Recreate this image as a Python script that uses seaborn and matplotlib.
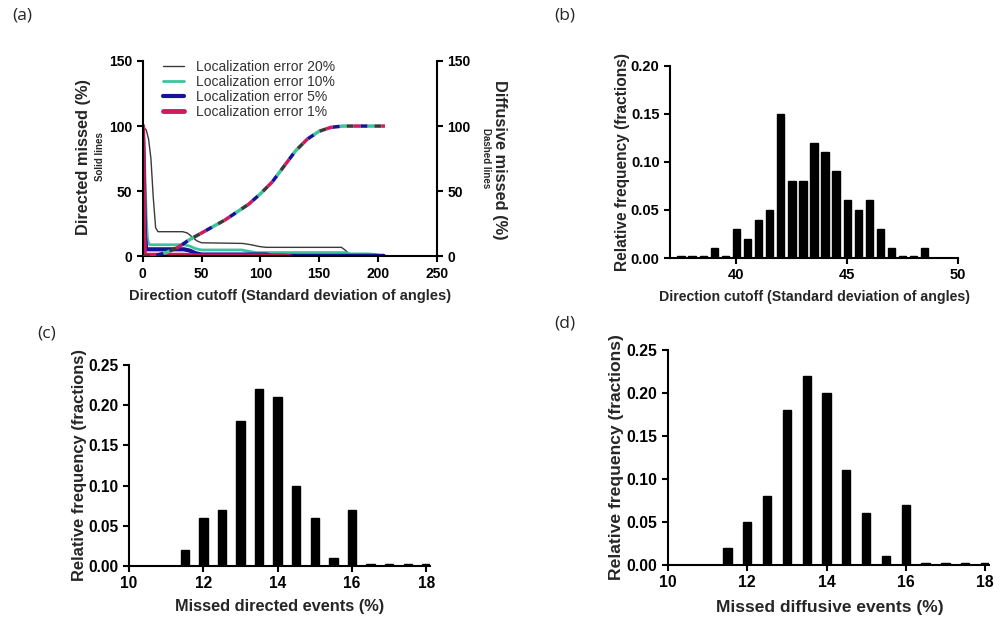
import matplotlib
matplotlib.use('Agg')
import matplotlib.pyplot as plt
import seaborn as sns

# ---- panel (a): missed events vs direction cutoff ----
err_labels = ['Localization error 20%', 'Localization error 10%',
              'Localization error 5%', 'Localization error 1%']

# directed missed (%), solid lines
dir20_x = [0, 3, 5, 7, 9, 11, 13, 34, 38, 42, 46, 50, 85, 92, 100, 105, 169, 172, 175, 178, 193, 200, 206]
dir20_y = [100, 97, 90, 75, 45, 22, 19, 19, 18, 15, 12, 10.5, 10, 9, 7.5, 7, 7, 5, 2.5, 1.5, 1.5, 1, 0]
dir10_x = [0, 1, 2, 3, 4, 5, 6, 35, 40, 45, 50, 84, 90, 96, 100, 172, 176, 192, 198, 203, 206]
dir10_y = [100, 90, 60, 30, 14, 10, 9, 9, 8, 6, 5, 5, 4, 3, 3, 3, 2, 2, 1.5, 0.5, 0]
dir5_x = [0, 1, 2, 3, 35, 40, 45, 50, 105, 110, 205]
dir5_y = [100, 60, 15, 5.5, 5.5, 4.5, 2.5, 1.5, 1.5, 0.5, 0.5]
dir1_x = [0, 0.5, 1, 1.5, 35, 45, 120, 125]
dir1_y = [100, 70, 20, 1, 1, 0.5, 0.5, 0]

# diffusive missed (%), dashed lines (the four curves overlap)
diff_x = [0, 10, 20, 30, 40, 50, 60, 70, 80, 90, 100, 110, 120, 130, 140, 150, 160, 170, 180, 190, 200, 206]
diff_y = [0, 0.5, 3, 7, 13, 18, 23, 28, 34, 40, 48, 57, 69, 81, 90, 96, 99, 100, 100, 100, 100, 100]

# ---- panel (b): distribution of direction cutoff ----
# empty bins show up as thin flat marks on the axis
b_bins = [37.5, 38, 38.5, 39, 39.5, 40, 40.5, 41, 41.5, 42, 42.5, 43, 43.5, 44, 44.5,
          45, 45.5, 46, 46.5, 47, 47.5, 48, 48.5]
b_freq = [0.002, 0.002, 0.002, 0.01, 0.002, 0.03, 0.02, 0.04, 0.05, 0.15, 0.08, 0.08, 0.12, 0.11, 0.09,
          0.06, 0.05, 0.06, 0.03, 0.01, 0.002, 0.002, 0.01]

# ---- panels (c) and (d): missed directed / diffusive events ----
cd_bins = [11.5, 12, 12.5, 13, 13.5, 14, 14.5, 15, 15.5, 16, 16.5, 17, 17.5, 18]
c_freq = [0.02, 0.06, 0.07, 0.18, 0.22, 0.21, 0.10, 0.06, 0.01, 0.07, 0.002, 0.002, 0.002, 0.002]
d_freq = [0.02, 0.05, 0.08, 0.18, 0.22, 0.20, 0.11, 0.06, 0.01, 0.07, 0.002, 0.002, 0.002, 0.002]

colors = ['#3a3a3a', '#3cc49a', '#14149a', '#d0195e']
widths = [1.0, 2.0, 3.0, 3.5]

sns.set_style('ticks')
plt.rcParams['font.family'] = ['Liberation Sans', 'DejaVu Sans']

fig = plt.figure(figsize=(10, 6.21), dpi=100)

ax_a = fig.add_axes([0.1427, 0.587, 0.294, 0.315])
ax_b = fig.add_axes([0.670, 0.5845, 0.288, 0.3097])
ax_c = fig.add_axes([0.129, 0.0886, 0.301, 0.3237])
ax_d = fig.add_axes([0.668, 0.0902, 0.321, 0.346])


def style_axis(ax, size):
    for s in ['left', 'bottom', 'right']:
        ax.spines[s].set_linewidth(1.5)
        ax.spines[s].set_color('black')
    ax.tick_params(direction='out', length=4, width=1.5, labelsize=size, colors='black')
    for t in ax.get_xticklabels() + ax.get_yticklabels():
        t.set_fontweight('bold')


# panel (a)
dir_x = [dir20_x, dir10_x, dir5_x, dir1_x]
dir_y = [dir20_y, dir10_y, dir5_y, dir1_y]
ax_a2 = ax_a.twinx()
handles = []
for i in range(4):
    sns.lineplot(x=dir_x[i], y=dir_y[i], estimator=None, sort=False, color=colors[i],
                 linewidth=widths[i], ax=ax_a)
    handles.append(ax_a.lines[-1])
for i in [1, 0, 3, 2]:
    sns.lineplot(x=diff_x, y=diff_y, estimator=None, sort=False, color=colors[i],
                 linewidth=2.5, linestyle=(i * 2, (2, 6)), ax=ax_a2)
ax_a.set_xlim(0, 250)
ax_a.set_ylim(0, 150)
ax_a2.set_ylim(0, 150)
ax_a.set_xticks([0, 50, 100, 150, 200, 250])
ax_a.set_yticks([0, 50, 100, 150])
ax_a2.set_yticks([0, 50, 100, 150])
ax_a.spines['top'].set_visible(False)
ax_a.spines['right'].set_visible(False)
for s in ['top', 'left', 'bottom']:
    ax_a2.spines[s].set_visible(False)
style_axis(ax_a, 10)
style_axis(ax_a2, 10)
ax_a.set_xlabel('Direction cutoff (Standard deviation of angles)', fontsize=10.5, fontweight='bold')
ax_a.xaxis.set_label_coords(0.501, -0.166)
ax_a.set_ylabel('Directed missed (%)', fontsize=11.8, fontweight='bold')
ax_a.yaxis.set_label_coords(-0.177, 0.51)
ax_a.text(-0.145, 0.51, 'Solid lines', rotation=90, fontsize=7, fontweight='bold',
          ha='center', va='center', transform=ax_a.transAxes)
ax_a2.set_ylabel('')
ax_a2.text(1.215, 0.494, 'Diffusive missed (%)', rotation=-90, fontsize=11.8, fontweight='bold',
           ha='center', va='center', transform=ax_a.transAxes)
ax_a2.text(1.168, 0.504, 'Dashed lines', rotation=-90, fontsize=7, fontweight='bold',
           ha='center', va='center', transform=ax_a.transAxes)
leg = ax_a.legend(handles, err_labels, loc='upper left', bbox_to_anchor=(0.069, 1.005),
                  frameon=False, fontsize=10, handlelength=1.5, handletextpad=0.9,
                  labelspacing=0.08, borderaxespad=0, borderpad=0)
for t in leg.get_texts():
    t.set_color('#333333')


def hist_panel(ax, bins, freq, width, xlim, xticks, ylim, yticks, xlabel, xl_size, xl_coords,
               yl_size, yl_coords, tick_size):
    sns.barplot(x=bins, y=freq, native_scale=True, width=width, color='black', saturation=1,
                errorbar=None, edgecolor='black', linewidth=1.0, ax=ax)
    ax.set_xlim(*xlim)
    ax.set_ylim(*ylim)
    ax.set_xticks(xticks)
    ax.set_xticklabels([str(v) for v in xticks])
    ax.set_yticks(yticks)
    ax.set_yticklabels(['%.2f' % v for v in yticks])
    sns.despine(ax=ax)
    style_axis(ax, tick_size)
    ax.set_xlabel(xlabel, fontsize=xl_size, fontweight='bold')
    ax.xaxis.set_label_coords(*xl_coords)
    ax.set_ylabel('Relative frequency (fractions)', fontsize=yl_size, fontweight='bold')
    ax.yaxis.set_label_coords(*yl_coords)


hist_panel(ax_b, b_bins, b_freq, 0.66, (37, 50), [40, 45, 50], (0, 0.2),
           [0, 0.05, 0.10, 0.15, 0.20], 'Direction cutoff (Standard deviation of angles)',
           10.2, (0.503, -0.166), 11.2, (-0.139, 0.5), 10.5)
hist_panel(ax_c, cd_bins, c_freq, 0.45, (10, 18.1), [10, 12, 14, 16, 18], (0, 0.25),
           [0, 0.05, 0.10, 0.15, 0.20, 0.25], 'Missed directed events (%)',
           11.8, (0.50, -0.164), 11.9, (-0.14, 0.5), 11.2)
hist_panel(ax_d, cd_bins, d_freq, 0.42, (10, 18.1), [10, 12, 14, 16, 18], (0, 0.25),
           [0, 0.05, 0.10, 0.15, 0.20, 0.25], 'Missed diffusive events (%)',
           12.5, (0.504, -0.163), 12.6, (-0.138, 0.5), 11.3)

# panel letters
for lab, x, y in [('(a)', 22, 15), ('(b)', 565, 15), ('(c)', 47, 333), ('(d)', 565, 323)]:
    fig.text(x / 1000, 1 - y / 621, lab, fontsize=12.5, ha='center', va='center',
             family=['Open Sans', 'DejaVu Sans'])

fig.savefig('out.png', dpi=100)
